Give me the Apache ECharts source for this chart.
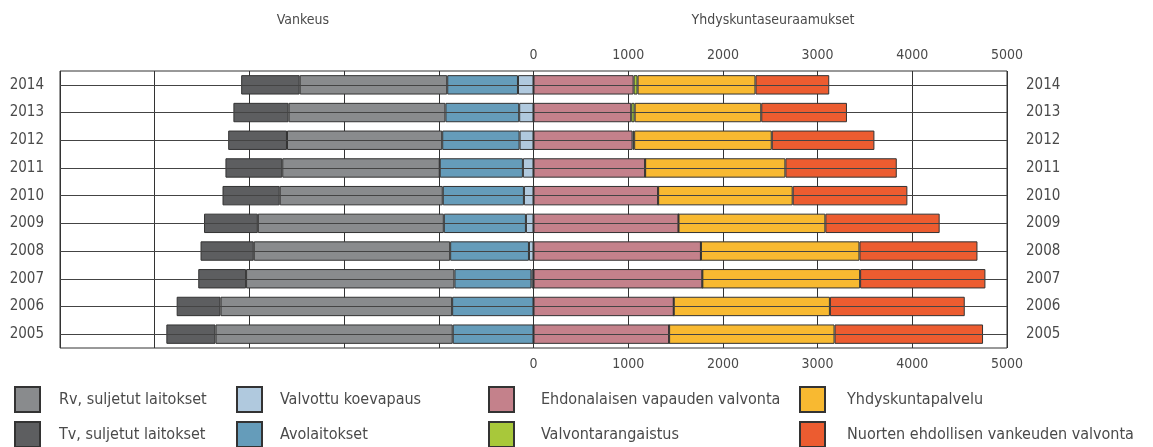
<!DOCTYPE html>
<html>
<head>
<meta charset="utf-8">
<script src="https://cdn.jsdelivr.net/npm/echarts@6/dist/echarts.min.js"></script>
<style>
  html, body { margin: 0; padding: 0; background: #fff; }
  #chart { width: 1153px; height: 447px; }
</style>
</head>
<body>
<div id="chart"></div>
<script>
// vuodet alhaalta ylös
const years = ['2005', '2006', '2007', '2008', '2009', '2010', '2011', '2012', '2013', '2014']
const xTicks = [0, 1000, 2000, 3000, 4000, 5000]

// Vankeus (vasen puoli, piirretään negatiivisina)
const koevapaus = [0, 0, 21, 48, 80, 101, 112, 147, 151, 164]
const avolaitokset = [853, 859, 814, 832, 867, 857, 878, 817, 779, 747]
const rvSuljetut = [2505, 2446, 2200, 2074, 1964, 1722, 1663, 1639, 1656, 1558]
const tvSuljetut = [519, 463, 505, 562, 568, 604, 600, 621, 583, 618]

// Yhdyskuntaseuraamukset (oikea puoli)
const ehdonalainen = [1432, 1481, 1783, 1768, 1531, 1316, 1179, 1046, 1032, 1057]
const valvontarangaistus = [0, 0, 0, 0, 0, 0, 0, 17, 36, 42]
const yhdyskuntapalvelu = [1747, 1649, 1666, 1674, 1551, 1421, 1481, 1453, 1337, 1245]
const nuorten = [1568, 1424, 1323, 1246, 1207, 1211, 1176, 1084, 905, 779]

const FONT = '"DejaVu Sans Condensed", "DejaVu Sans", sans-serif'
const TXT = '#4a4a4a'
const LINE = '#333'

const mkBar = (name, data, color, negative) => ({
  name,
  type: 'bar',
  stack: 'all',
  barCategoryGap: '30%',
  z: 3,
  itemStyle: { color, borderColor: LINE, borderWidth: 1 },
  emphasis: { disabled: true },
  data: negative ? data.map(v => -v) : data
})

// yksi legenda per selite, jotta sijainnit saa kohdalleen
const legendItem = (left, top, name, pad) => ({
  left,
  top,
  padding: 0,
  itemWidth: 25,
  itemHeight: 25,
  selectedMode: false,
  icon: 'rect',
  data: [name],
  textStyle: { fontFamily: FONT, fontSize: 16, color: TXT, padding: [0, 0, 0, pad] }
})

const chart = echarts.init(document.getElementById('chart'))
chart.setOption({
  animation: false,
  title: [
    { text: 'Vankeus', left: 298, top: 8, textAlign: 'center', textStyle: { fontFamily: FONT, fontSize: 14, fontWeight: 'normal', color: TXT } },
    { text: 'Yhdyskuntaseuraamukset', left: 768, top: 8, textAlign: 'center', textStyle: { fontFamily: FONT, fontSize: 14, fontWeight: 'normal', color: TXT } }
  ],
  legend: [
    legendItem(14, 386, 'Rv, suljetut laitokset', 14),
    legendItem(14, 421, 'Tv, suljetut laitokset', 14),
    legendItem(236, 386, 'Valvottu koevapaus', 13),
    legendItem(236, 421, 'Avolaitokset', 13),
    legendItem(488, 386, 'Ehdonalaisen vapauden valvonta', 22),
    legendItem(488, 421, 'Valvontarangaistus', 22),
    legendItem(799, 386, 'Yhdyskuntapalvelu', 17),
    legendItem(799, 421, 'Nuorten ehdollisen vankeuden valvonta', 17)
  ],
  grid: { left: 60, right: 146, top: 71, bottom: 99, show: true, borderColor: LINE, borderWidth: 1 },
  xAxis: [
    {
      type: 'value', position: 'top', min: -5000, max: 5000, interval: 1000,
      axisLine: { show: false }, axisTick: { show: false },
      splitLine: { show: true, lineStyle: { color: LINE, width: 1 } },
      axisLabel: { fontFamily: FONT, fontSize: 14, color: TXT, margin: 9, formatter: v => xTicks.includes(v) ? String(v) : '' }
    },
    {
      type: 'value', position: 'bottom', min: -5000, max: 5000, interval: 1000,
      axisLine: { show: false }, axisTick: { show: false }, splitLine: { show: false },
      axisLabel: { fontFamily: FONT, fontSize: 14, color: TXT, margin: 9, formatter: v => xTicks.includes(v) ? String(v) : '' }
    }
  ],
  yAxis: [
    {
      type: 'category', position: 'left', data: years,
      axisLine: { show: false }, axisTick: { show: false }, splitLine: { show: false },
      axisLabel: { fontFamily: FONT, fontSize: 15, color: TXT, margin: 16 }
    },
    {
      type: 'category', position: 'right', data: years,
      axisLine: { show: false }, axisTick: { show: false }, splitLine: { show: false },
      axisLabel: { fontFamily: FONT, fontSize: 15, color: TXT, margin: 19 }
    }
  ],
  series: [
    {
      // vaakaviivat vuosien kohdalla palkkien takana
      type: 'line', data: [], z: 1, silent: true,
      markLine: {
        silent: true, symbol: 'none', animation: false,
        label: { show: false },
        lineStyle: { color: '#444', width: 1, type: 'solid' },
        data: years.map(y => ({ yAxis: y }))
      }
    },
    mkBar('Valvottu koevapaus', koevapaus, '#b0c9de', true),
    mkBar('Avolaitokset', avolaitokset, '#659cba', true),
    mkBar('Rv, suljetut laitokset', rvSuljetut, '#898b8d', true),
    mkBar('Tv, suljetut laitokset', tvSuljetut, '#5d5e60', true),
    mkBar('Ehdonalaisen vapauden valvonta', ehdonalainen, '#c4818b', false),
    mkBar('Valvontarangaistus', valvontarangaistus, '#a8c83a', false),
    mkBar('Yhdyskuntapalvelu', yhdyskuntapalvelu, '#f8b931', false),
    mkBar('Nuorten ehdollisen vankeuden valvonta', nuorten, '#ec5c30', false)
  ]
})
</script>
</body>
</html>
